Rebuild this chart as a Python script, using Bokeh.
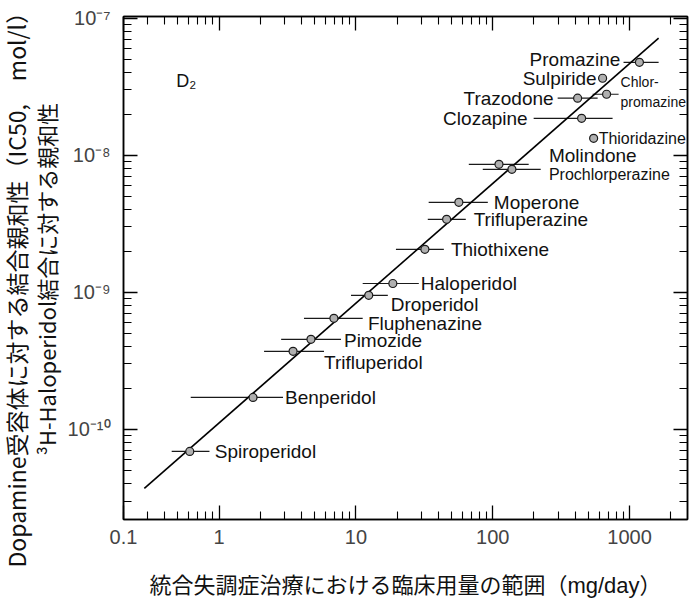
import math
from bokeh.plotting import figure
from bokeh.models import (ColumnDataSource, FixedTicker, LogAxis, Label, Title)
from bokeh.core.properties import value
from bokeh.embed import file_html
from bokeh.resources import INLINE

# ---------------- data ----------------
drugs = ["Spiroperidol", "Benperidol", "Trifluperidol", "Pimozide", "Fluphenazine",
         "Droperidol", "Haloperidol", "Thiothixene", "Trifluperazine", "Moperone",
         "Prochlorperazine", "Molindone", "Thioridazine", "Clozapine", "Trazodone",
         "Chlorpromazine", "Sulpiride", "Promazine"]
dose_mid = [0.61, 1.77, 3.47, 4.69, 6.9, 12.4, 18.6, 31.9, 46.0, 56.5,
            138.0, 111.0, 546.0, 446.0, 417.0, 679.0, 635.0, 1180.0]
dose_lo = [0.45, 0.62, 2.13, 2.84, 4.17, 9.2, 11.2, 19.6, 33.5, 34.0,
           84.5, 66.8, None, 199.0, 298.0, 537.0, None, 903.0]
dose_hi = [0.85, 2.93, 5.84, 7.77, 11.2, 17.1, 28.8, 43.9, 63.5, 92.0,
           224.0, 183.0, None, 751.0, 584.0, 831.0, None, 1630.0]
ic50 = [6.9e-11, 1.71e-10, 3.71e-10, 4.54e-10, 6.46e-10, 9.51e-10, 1.16e-9, 2.06e-9,
        3.41e-9, 4.54e-9, 7.9e-9, 8.6e-9, 1.33e-8, 1.86e-8, 2.61e-8, 2.79e-8,
        3.65e-8, 4.77e-8]
fit_x = [0.284, 1630.0]
fit_y = [3.71e-11, 7.15e-8]

x_tick_values = [0.2, 1, 10, 100, 1000]
x_tick_labels = ["0.1", "1", "10", "100", "1000"]
y_tick_values = [1e-10, 1e-9, 1e-8, 1e-7]
y_tick_labels = ["10\u207b\u00b9\u2070", "10\u207b\u2079", "10\u207b\u2078", "10\u207b\u2077"]

x_title = "統合失調症治療における臨床用量の範囲（mg/day）"
y_title1 = "Dopamine受容体に対する結合親和性（IC50,\u3000mol/l）"
y_title2 = "\u00b3H-Haloperidol結合に対する親和性"
panel_label = "D\u2082"

# label layout: (text, drug index, dx px, dy px, align, font size)
label_layout = [
    ("Promazine", 17, -19, -3, "right", 19),
    ("Sulpiride", 16, -6, 0, "right", 19),
    ("Chlor-", 15, 14, -12, "left", 14),
    ("promazine", 15, 14, 8, "left", 14),
    ("Trazodone", 14, -24, 0, "right", 19),
    ("Clozapine", 13, -54, 0, "right", 19),
    ("Thioridazine", 12, 5, 0, "left", 16),
    ("Molindone", 11, 50, -9, "left", 19),
    ("Prochlorperazine", 10, 37, 5, "left", 16),
    ("Moperone", 9, 35, 0, "left", 19),
    ("Trifluperazine", 8, 27, 0, "left", 19),
    ("Thiothixene", 7, 26, 0, "left", 19),
    ("Haloperidol", 6, 28, 0, "left", 19),
    ("Droperidol", 5, 22, 9, "left", 19),
    ("Fluphenazine", 4, 34, 5, "left", 19),
    ("Pimozide", 3, 33, 1, "left", 19),
    ("Trifluperidol", 2, 31, 11, "left", 19),
    ("Benperidol", 1, 32, 0, "left", 19),
    ("Spiroperidol", 0, 25, 0, "left", 19),
]

FONT = "Liberation Sans"
JFONT = "Noto Sans CJK JP"
MIXFONT = "Liberation Sans, Noto Sans CJK JP"
PAD = "\u3000"

def minor_list(lo_exp, hi_exp):
    return [k * 10.0 ** e for e in range(lo_exp, hi_exp + 1) for k in range(2, 10)]

x_ticker = FixedTicker(ticks=x_tick_values, minor_ticks=minor_list(-1, 3))
y_ticker = FixedTicker(ticks=y_tick_values, minor_ticks=minor_list(-12, -8))

p = figure(width=690, height=604, x_axis_type="log", y_axis_type="log",
           x_range=(0.2, 2650), y_range=(2.2e-11, 1.03e-7),
           output_backend="svg", toolbar_location=None,
           min_border_left=123, min_border_right=3, min_border_top=16, min_border_bottom=85)
p.grid.visible = False
p.background_fill_color = "white"
p.border_fill_color = "white"
p.outline_line_color = "black"
p.outline_line_width = 1.5

def style_axis(ax):
    ax.axis_line_color = "black"
    ax.axis_line_width = 1.5
    ax.major_tick_line_color = "black"
    ax.minor_tick_line_color = "black"
    ax.major_tick_line_width = 1.3
    ax.minor_tick_line_width = 1.1
    ax.major_tick_in = 14
    ax.major_tick_out = 0
    ax.minor_tick_in = 8
    ax.minor_tick_out = 0

xa = p.xaxis[0]
xa.ticker = x_ticker
style_axis(xa)
xa.major_label_overrides = {v: t for v, t in zip(x_tick_values, x_tick_labels)}
xa.major_label_text_font = FONT
xa.major_label_text_font_size = "20px"
xa.major_label_standoff = 10
xa.axis_label = x_title
xa.axis_label_text_font = MIXFONT
xa.axis_label_text_font_size = "22px"
xa.axis_label_text_font_style = "normal"
xa.axis_label_text_color = "#111111"
xa.axis_label_standoff = 26

ya = p.yaxis[0]
ya.ticker = y_ticker
style_axis(ya)
ya.major_label_overrides = {v: t for v, t in zip(y_tick_values, y_tick_labels)}
ya.major_label_text_font = FONT
ya.major_label_text_font_size = "20px"
ya.major_label_standoff = 13
ya.axis_label = y_title2 + PAD
ya.axis_label_text_font = JFONT
ya.axis_label_text_font_size = "22px"
ya.axis_label_text_font_style = "normal"
ya.axis_label_text_color = "#111111"
ya.axis_label_standoff = 3

# outer line of the y title, started below the frame's bottom edge by offset
t1 = Title(text=y_title1, align="left", offset=-48, standoff=-14,
           vertical_align="middle", text_font=JFONT, text_font_size="23px",
           text_font_style="normal", text_color="#111111")
p.add_layout(t1, "left")

top = LogAxis(ticker=x_ticker)
style_axis(top)
top.major_label_text_font_size = "1px"
top.major_label_text_alpha = 0
top.major_label_standoff = 0
p.add_layout(top, "above")

right = LogAxis(ticker=y_ticker)
style_axis(right)
right.major_label_text_font_size = "1px"
right.major_label_text_alpha = 0
right.major_label_standoff = 0
p.add_layout(right, "right")

# error bars
bar_idx = [i for i in range(len(drugs)) if dose_lo[i] is not None]
bars = ColumnDataSource(dict(
    x0=[dose_lo[i] for i in bar_idx], x1=[dose_hi[i] for i in bar_idx],
    y=[ic50[i] for i in bar_idx]))
p.segment(x0="x0", x1="x1", y0="y", y1="y", source=bars, line_color="#1a1a1a", line_width=1.2)

# regression line
p.line(fit_x, fit_y, line_color="black", line_width=1.6)

# points
pts = ColumnDataSource(dict(x=dose_mid, y=ic50, name=drugs))
p.scatter(x="x", y="y", source=pts, size=8, marker="circle",
          fill_color="#b0b0b0", line_color="#1a1a1a", line_width=1.2)

# labels
lab = ColumnDataSource(dict(
    x=[dose_mid[r[1]] for r in label_layout],
    y=[ic50[r[1]] for r in label_layout],
    text=[r[0] for r in label_layout],
    dx=[r[2] for r in label_layout],
    dy=[r[3] for r in label_layout],
    align=[r[4] for r in label_layout],
    size=["%dpx" % r[5] for r in label_layout],
))
p.text(x="x", y="y", text="text", source=lab, x_offset="dx", y_offset="dy",
       text_align="align", text_baseline="middle", text_font_size="size",
       text_font=value(FONT), text_color="#111111")

p.add_layout(Label(x=0.485, y=3.47e-8, text=panel_label, text_font=FONT,
                   text_font_size="18px", text_baseline="middle", text_align="left",
                   text_color="#111111"))

open("out.html", "w").write(file_html(p, INLINE))
